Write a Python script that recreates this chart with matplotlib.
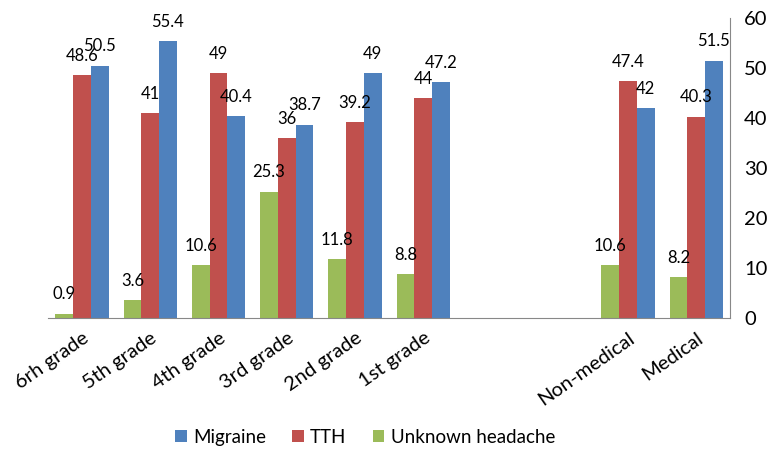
import matplotlib.pyplot as plt
import numpy as np

plt.rcParams['font.family'] = ['Lato', 'DejaVu Sans']

# categories (two blank slots between the grades and the medical groups)
categories = ["6rh grade", "5th grade", "4th grade", "3rd grade", "2nd grade",
              "1st grade", "", "", "Non-medical", "Medical"]
unknown = [0.9, 3.6, 10.6, 25.3, 11.8, 8.8, np.nan, np.nan, 10.6, 8.2]
tth = [48.6, 41, 49, 36, 39.2, 44, np.nan, np.nan, 47.4, 40.3]
migraine = [50.5, 55.4, 40.4, 38.7, 49, 47.2, np.nan, np.nan, 42, 51.5]

fig = plt.figure(figsize=(7.72, 4.63), dpi=100)
ax = fig.add_axes([0.062, 0.313, 0.884, 0.648])

x = np.arange(len(categories))
w = 0.26
series = [("Unknown headache", unknown, "#9BBB59", -w),
          ("TTH", tth, "#C0504D", 0),
          ("Migraine", migraine, "#4F81BD", w)]
handles = {}
for name, vals, col, off in series:
    b = ax.bar(x + off, vals, w, color=col, label=name)
    handles[name] = b
    for xi, v in zip(x, vals):
        if not np.isnan(v):
            ax.annotate(f"{v:g}", (xi + off, v), xytext=(0, 8), textcoords="offset points",
                        ha="center", va="bottom", fontsize=12)

ax.set_xlim(-0.5, len(categories) - 0.5)
ax.set_ylim(0, 60)
ax.yaxis.tick_right()
ax.set_yticks(range(0, 61, 10))
ax.tick_params(axis="y", length=0, labelsize=14.5, pad=10)
ax.set_xticks(x)
ax.set_xticklabels(categories, rotation=35, ha="right", rotation_mode="anchor", fontsize=14.5)
ax.tick_params(axis="x", length=0, pad=8)
for s in ["top", "left"]:
    ax.spines[s].set_visible(False)
ax.spines["bottom"].set_color("#888888")
ax.spines["right"].set_color("#888888")

fig.legend([handles["Migraine"], handles["TTH"], handles["Unknown headache"]],
           ["Migraine", "TTH", "Unknown headache"], loc="center", ncol=3,
           bbox_to_anchor=(0.473, 0.056), frameon=False, fontsize=13.5,
           handlelength=0.6, handleheight=0.6, columnspacing=1.4, handletextpad=0.35)

fig.savefig("out.png", dpi=100)
